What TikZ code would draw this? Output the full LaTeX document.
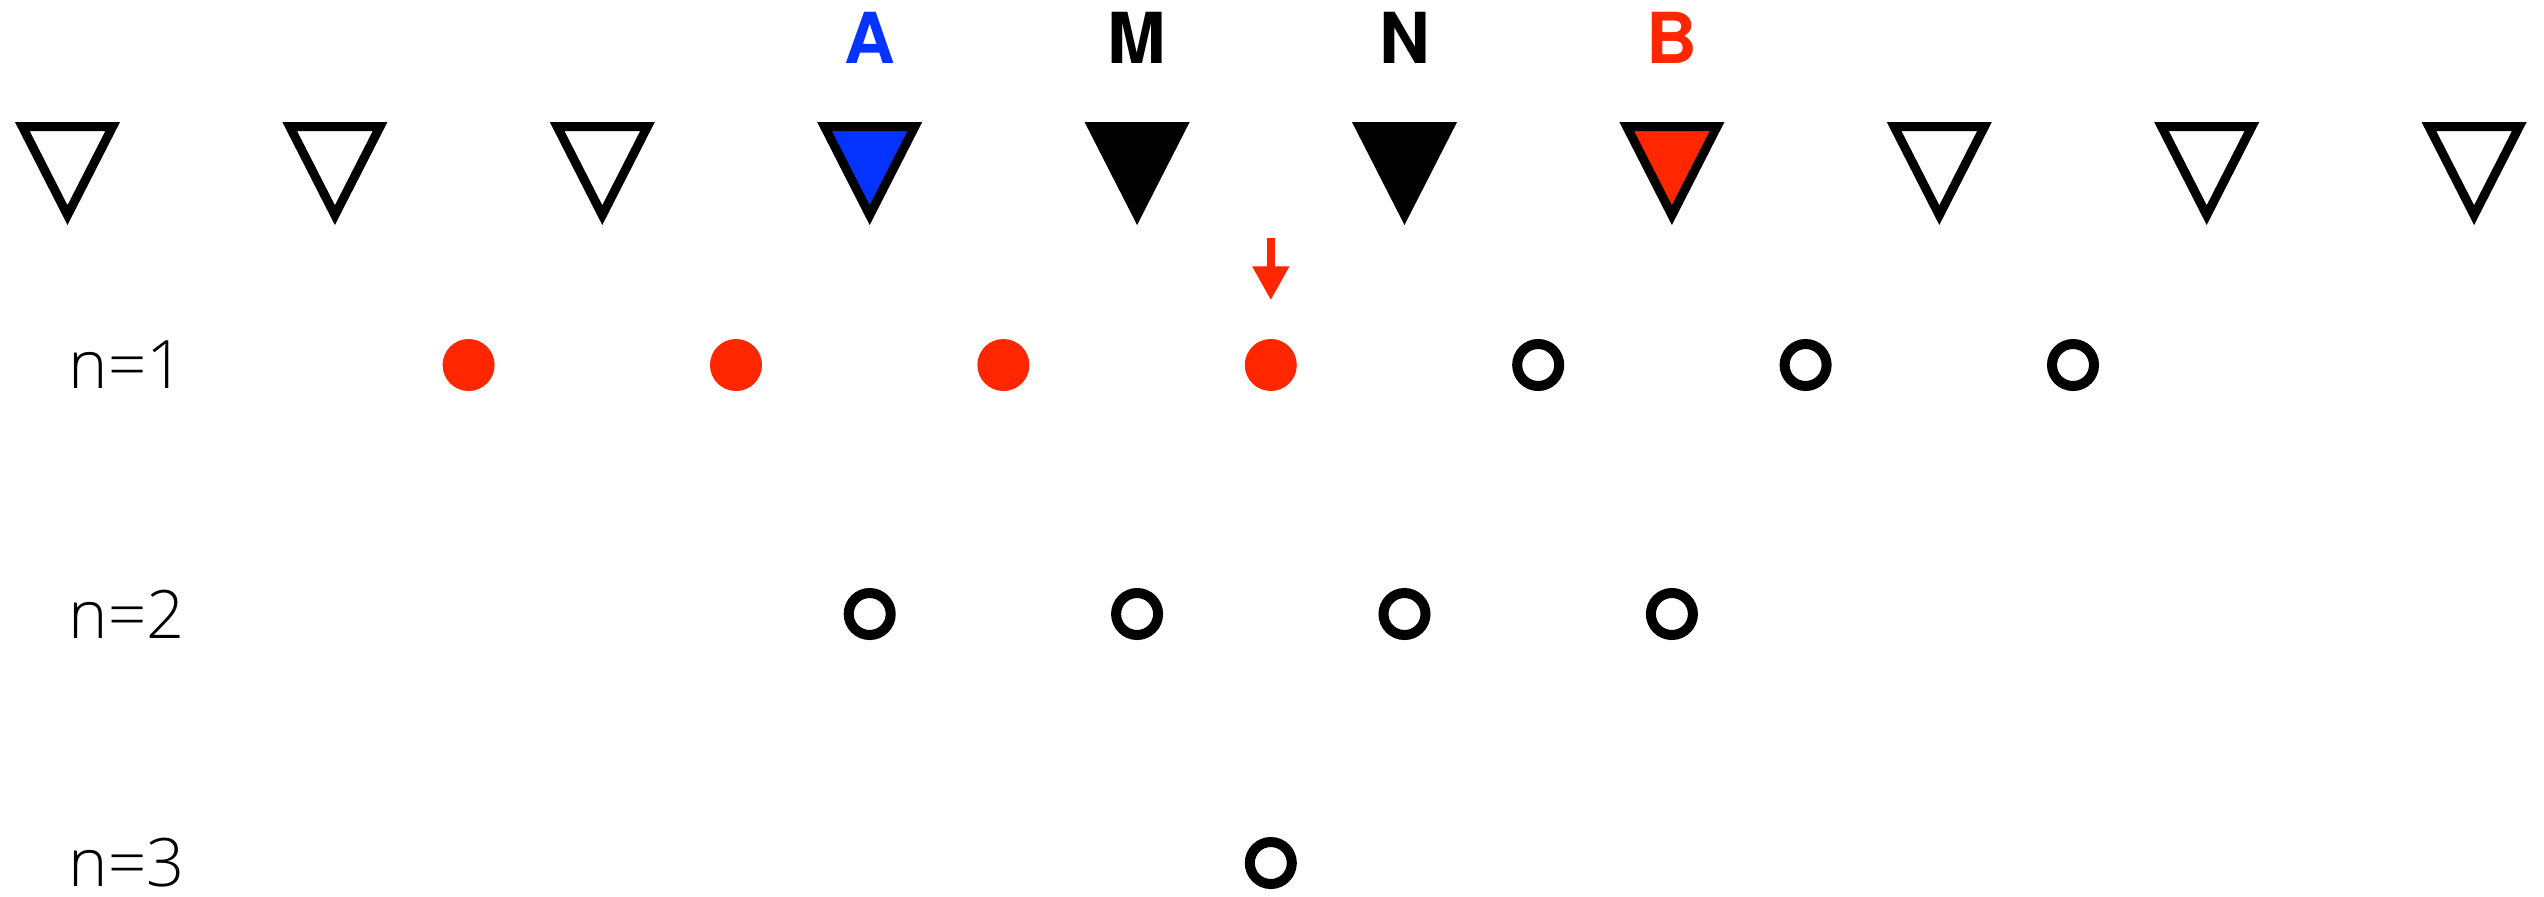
\documentclass[tikz,border=0pt]{standalone}
\usepackage{fontspec}
\setmainfont{TeX Gyre Heros}
\newfontfamily\leggero{Open Sans Light}
\usetikzlibrary{shapes,arrows,arrows.meta}
\usetikzlibrary{positioning}
\definecolor{rosso}{RGB}{255,38,0}
\definecolor{blu}{RGB}{4,51,255}
\tikzset{
	stazione/.style={line width=0.09cm,line join=miter},
	vuoto/.style={circle,draw=black,fill=white,line width=0.1cm,minimum size=0.42cm,inner sep=0pt},
	pieno/.style={circle,fill=rosso,minimum size=0.52cm,inner sep=0pt},
	lettera/.style={font=\fontsize{20}{24}\selectfont\bfseries,inner sep=0pt},
	riga/.style={font=\leggero\fontsize{19}{24}\selectfont,inner sep=0pt,anchor=west}
}

\begin{document}
\begin{tikzpicture}[x=0.01cm,y=0.01cm]
		\def\dx{267.4}
		\def\xz{67.5}
		\useasboundingbox (0,0) rectangle (2544,-896);
		% stazioni
		\foreach \i in {0,...,9}
			\coordinate (t\i) at (\xz+\i*\dx,-122);
		\foreach \i/\c in {0/white,1/white,2/white,3/blu,4/black,5/black,6/rosso,7/white,8/white,9/white}
			\draw[stazione,fill=\c,shift={(t\i)}] (-45.2,-4.5)--(45.2,-4.5)--(0,-93.1)--cycle;
		\node[lettera,text=blu,above=0.58cm of t3] (A) {A};
		\node[lettera,above=0.58cm of t4] (M) {M};
		\node[lettera,above=0.58cm of t5] (N) {N};
		\node[lettera,text=rosso,above=0.58cm of t6] (B) {B};
		% righe
		\node[riga] (n1) at (68,-365) {n=1};
		\node[riga] (n2) at (68,-614) {n=2};
		\node[riga] (n3) at (68,-863) {n=3};
		\foreach \i in {1,...,4}
			\node[pieno] (p\i) at ({\xz+(\i+0.5)*\dx},-365) {};
		\foreach \i in {5,6,7}
			\node[vuoto] (p\i) at ({\xz+(\i+0.5)*\dx},-365) {};
		\foreach \i in {3,...,6}
			\node[vuoto] (q\i) at (t\i |- n2) {};
		\node[vuoto] (r) at (p4 |- n3) {};
		% freccia
		\draw[rosso,line width=0.08cm,-{Triangle[length=0.34cm,width=0.35cm]}] ([yshift=1.0cm]p4.north)--([yshift=0.38cm]p4.north);
	\end{tikzpicture}
\end{document}
